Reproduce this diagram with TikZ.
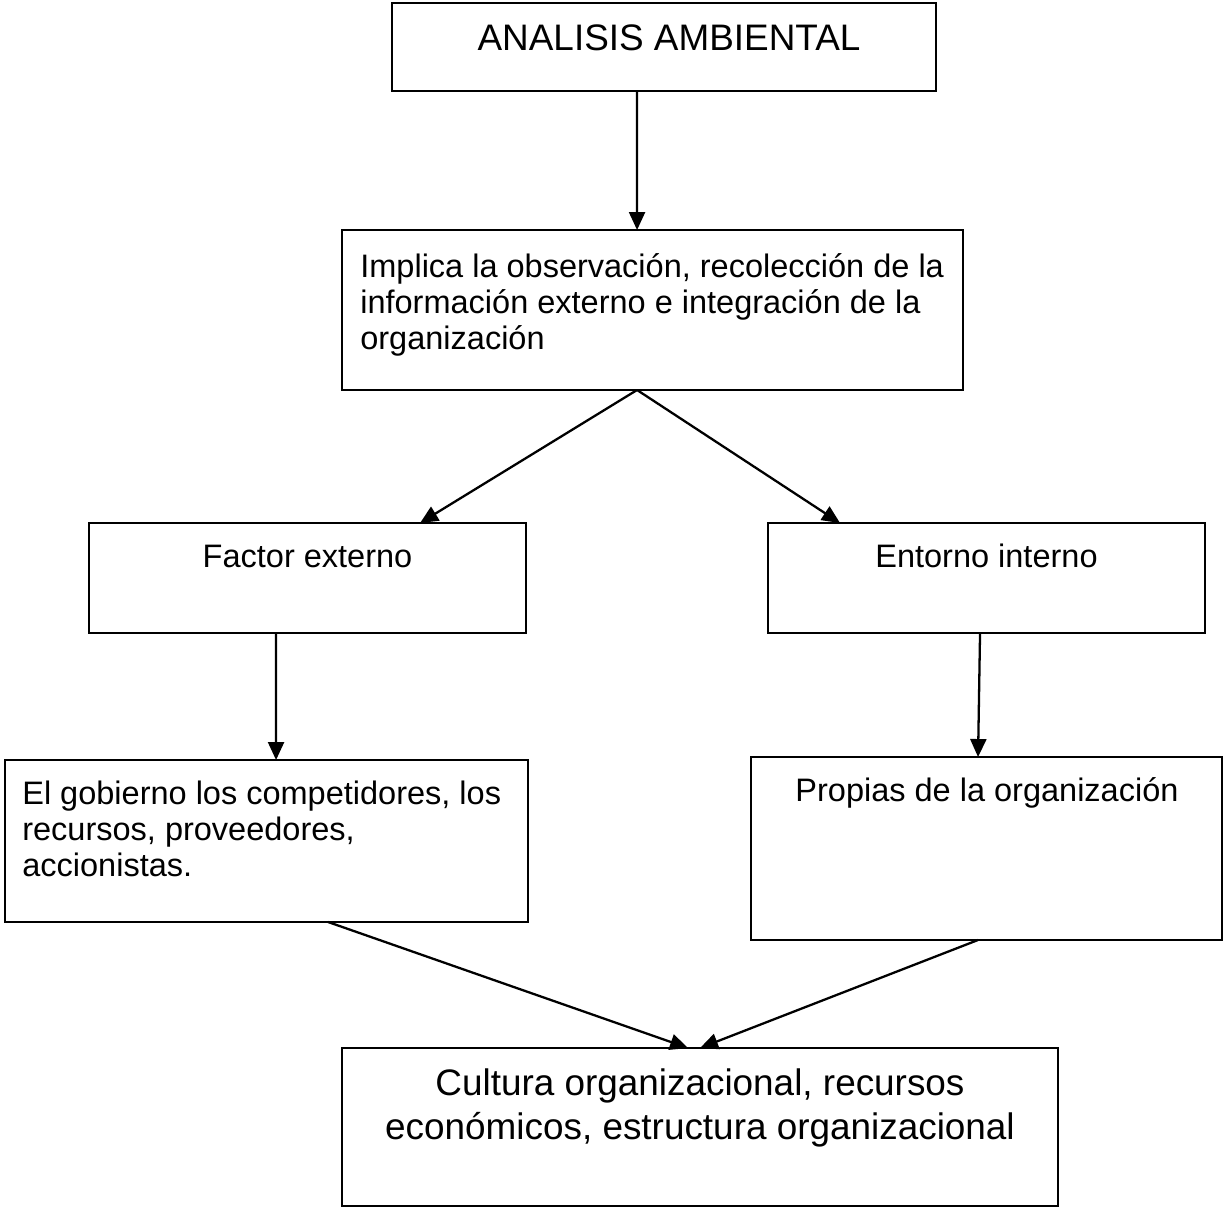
\documentclass[tikz,border=0pt]{standalone}
\usepackage{fontspec}
\setmainfont{Liberation Sans}
\usetikzlibrary{arrows.meta, positioning, calc}

\begin{document}
\begin{tikzpicture}[x=0.02cm, y=-0.02cm,
    box/.style={draw, rectangle, line width=1.3pt, inner sep=0pt, outer sep=0pt},
    txt/.style={inner sep=0pt, font=\fontsize{18.5}{20.4}\selectfont},
    big/.style={inner sep=0pt, font=\fontsize{21}{25}\selectfont},
    arr/.style={-{Triangle[length=0.36cm, width=0.32cm]}, line width=1.3pt}]
        \useasboundingbox (0,0) rectangle (1225,1208);

        % Boxes
        \node[box, minimum width=10.88cm, minimum height=1.76cm] (b1) at (664,47) {};
        \node[box, minimum width=12.42cm, minimum height=3.2cm] (b2) at (652.5,310) {};
        \node[box, minimum width=8.74cm, minimum height=2.2cm] (b3) at (307.5,578) {};
        \node[box, minimum width=8.74cm, minimum height=2.2cm] (b4) at (986.5,578) {};
        \node[box, minimum width=10.46cm, minimum height=3.24cm] (b5) at (266.5,841) {};
        \node[box, minimum width=9.42cm, minimum height=3.66cm] (b6) at (986.5,848.5) {};
        \node[box, minimum width=14.32cm, minimum height=3.16cm] (b7) at (700,1127) {};

        % Texts inside the boxes (base = last line)
        \node[big, anchor=base] (t1) at (669,50) {ANALISIS AMBIENTAL};
        \node[txt, anchor=base west, align=left] (t2) at (360,349) {Implica la observación, recolección de la\\información externo e integración de la\\organización};
        \node[txt, anchor=base] (t3) at (307.5,567) {Factor externo};
        \node[txt, anchor=base] (t4) at (986.5,567) {Entorno interno};
        \node[txt, anchor=base west, align=left] (t5) at (22,876) {El gobierno los competidores, los\\recursos, proveedores,\\accionistas.};
        \node[txt, anchor=base] (t6) at (987,801) {Propias de la organización};
        \node[big, anchor=base, align=center] (t7) at (700,1139) {Cultura organizacional, recursos\\económicos, estructura organizacional};

        % Arrows between the boxes
        \draw[arr] ($(b1.south west)+(245,0)$) -- ($(b2.north west)+(295,0)$);
        \draw[arr] ($(b2.south west)+(295,0)$) -- ($(b3.north west)+(331,0)$);
        \draw[arr] ($(b2.south west)+(295,0)$) -- ($(b4.north west)+(72,0)$);
        \draw[arr] ($(b3.south west)+(187,0)$) -- ($(b5.north west)+(271,0)$);
        \draw[arr] ($(b4.south west)+(212,0)$) -- ($(b6.north west)+(227,0)$);
        \draw[arr] ($(b5.south west)+(323,0)$) -- ($(b7.north west)+(346,0)$);
        \draw[arr] ($(b6.south west)+(227,0)$) -- ($(b7.north west)+(358,0)$);
    \end{tikzpicture}
\end{document}
